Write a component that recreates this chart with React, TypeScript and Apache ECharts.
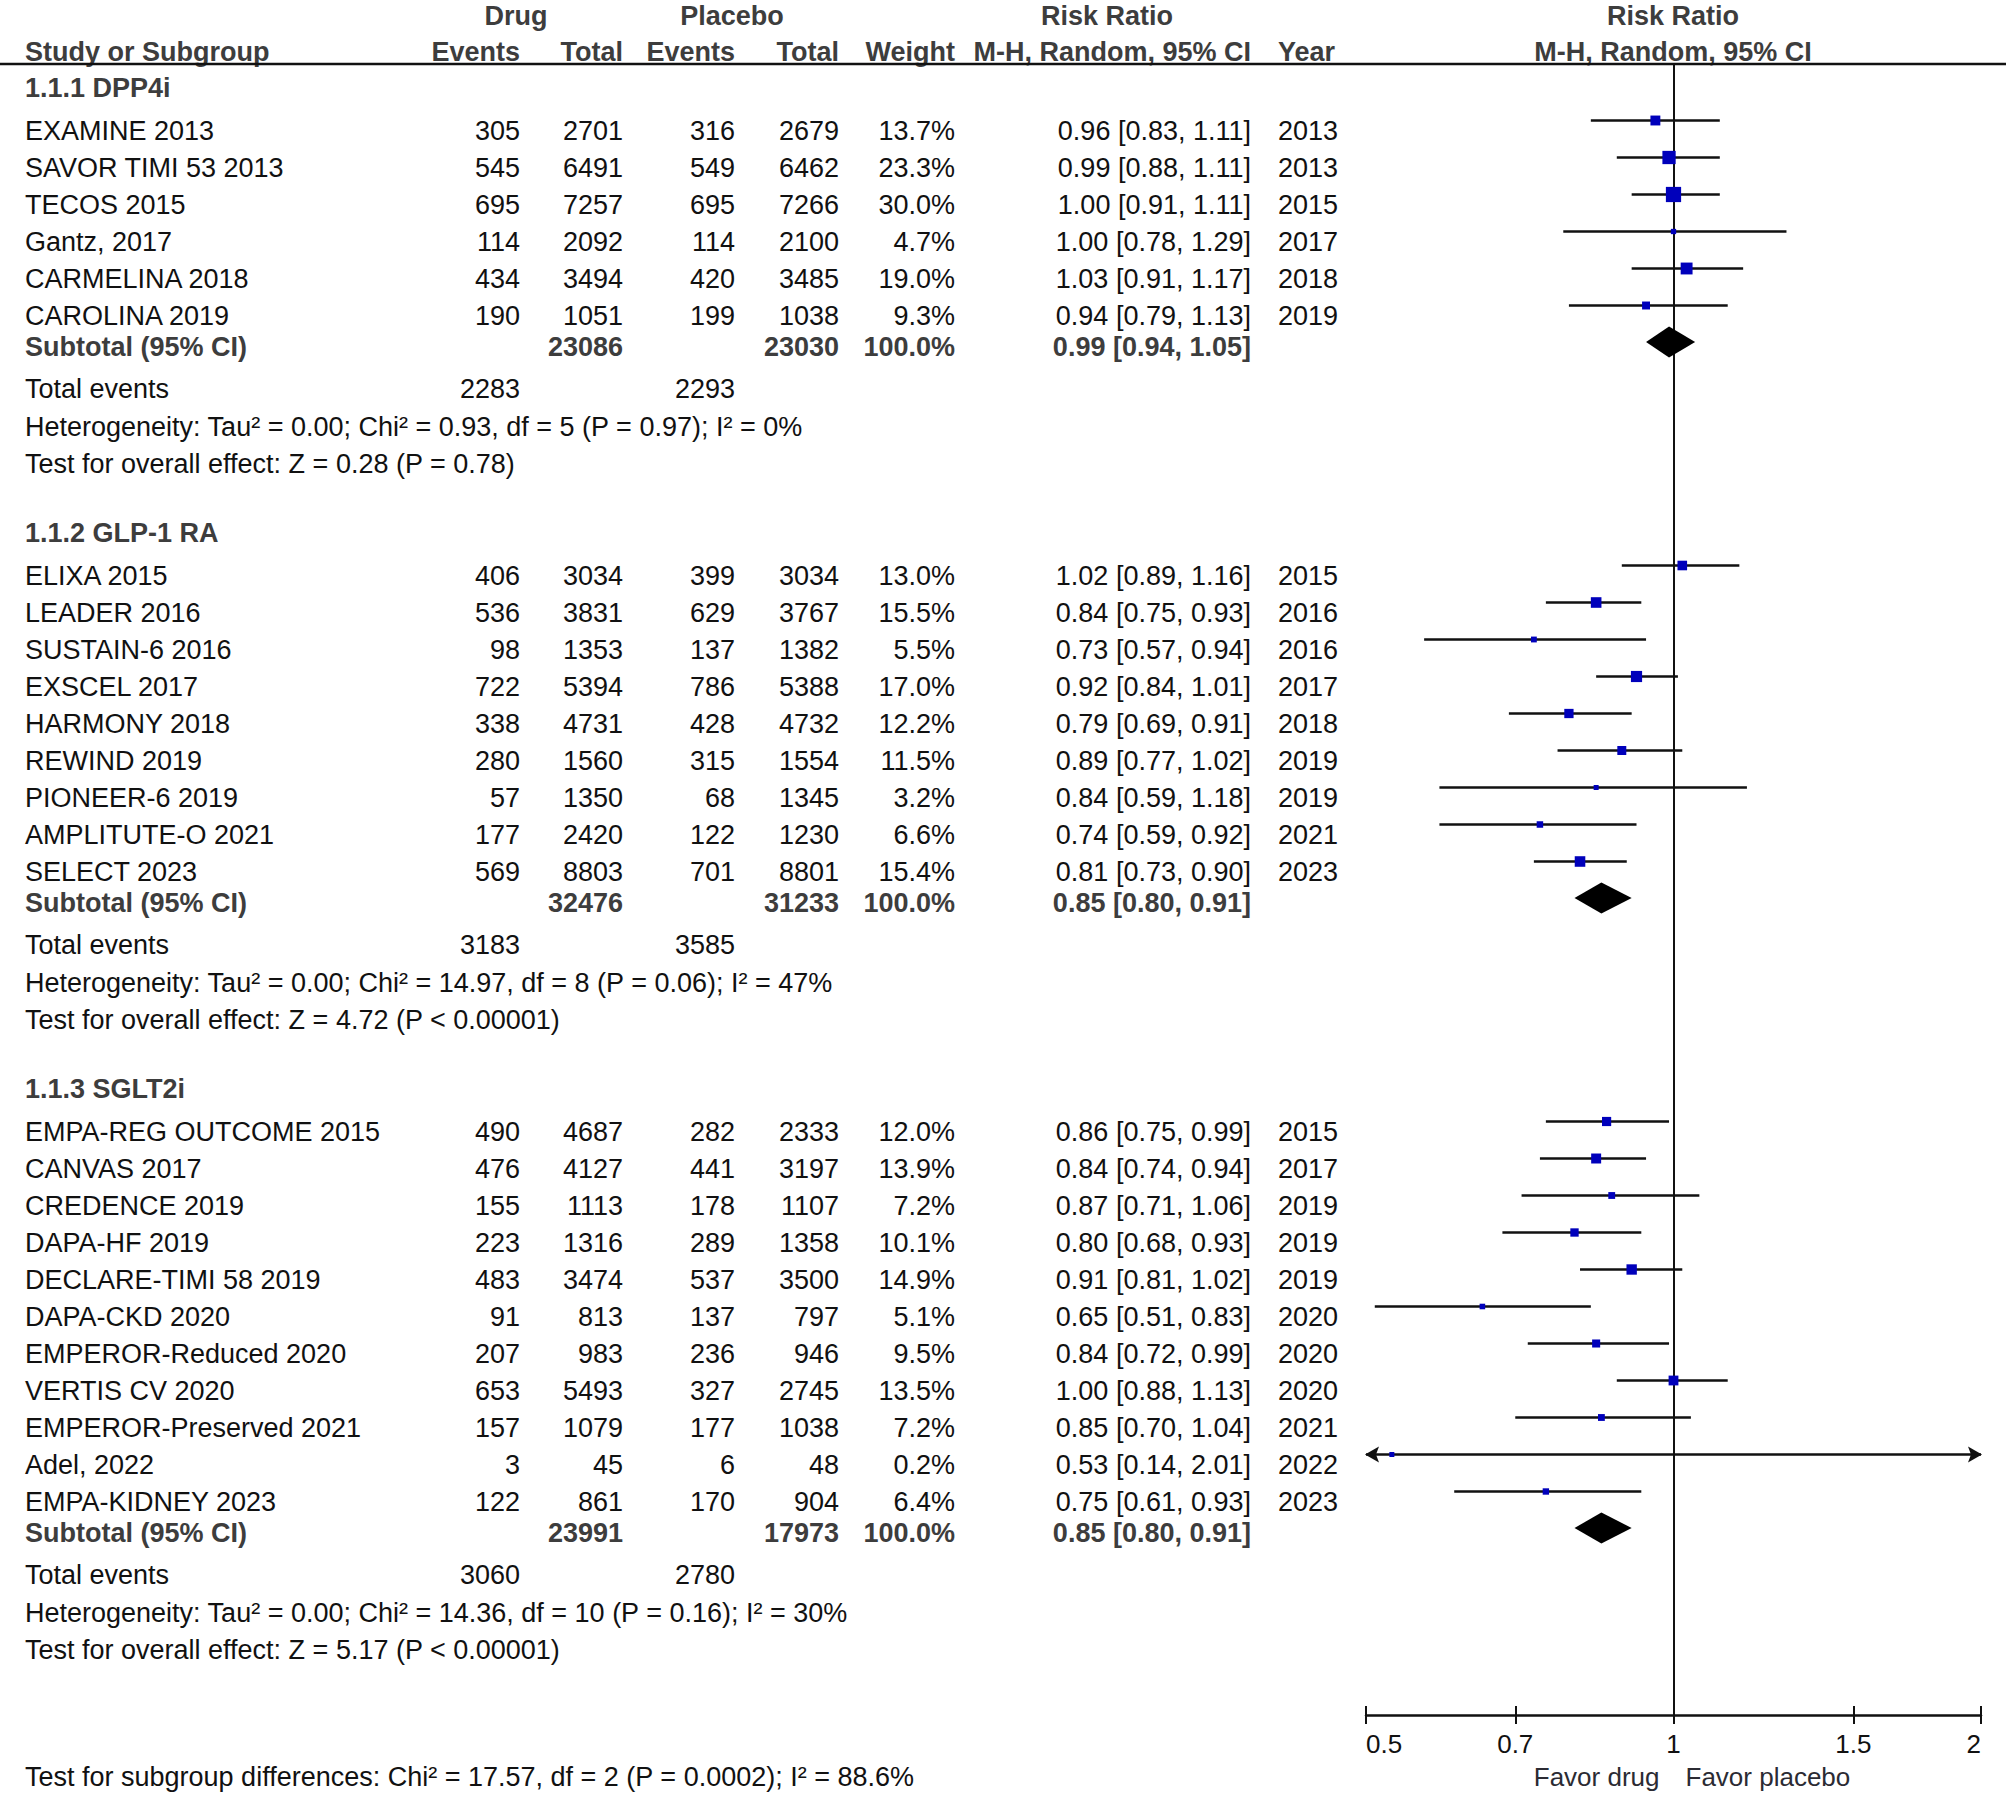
import React, { useEffect, useRef } from "react";
import * as echarts from "echarts";

// ---------------- Data ----------------
const DPP4_TITLE = "1.1.1 DPP4i";
const DPP4_STUDIES = ["EXAMINE 2013", "SAVOR TIMI 53 2013", "TECOS 2015", "Gantz, 2017", "CARMELINA 2018", "CAROLINA 2019"];
const DPP4_DRUG_EVENTS = [305, 545, 695, 114, 434, 190];
const DPP4_DRUG_TOTAL = [2701, 6491, 7257, 2092, 3494, 1051];
const DPP4_PLACEBO_EVENTS = [316, 549, 695, 114, 420, 199];
const DPP4_PLACEBO_TOTAL = [2679, 6462, 7266, 2100, 3485, 1038];
const DPP4_WEIGHT = [13.7, 23.3, 30.0, 4.7, 19.0, 9.3];
const DPP4_RR = [0.96, 0.99, 1.0, 1.0, 1.03, 0.94];
const DPP4_LOW = [0.83, 0.88, 0.91, 0.78, 0.91, 0.79];
const DPP4_HIGH = [1.11, 1.11, 1.11, 1.29, 1.17, 1.13];
const DPP4_YEAR = [2013, 2013, 2015, 2017, 2018, 2019];
const DPP4_POOLED = [0.99, 0.94, 1.05];
const DPP4_NOTES = [
  "Heterogeneity: Tau\u00b2 = 0.00; Chi\u00b2 = 0.93, df = 5 (P = 0.97); I\u00b2 = 0%",
  "Test for overall effect: Z = 0.28 (P = 0.78)",
];

const GLP1_TITLE = "1.1.2 GLP-1 RA";
const GLP1_STUDIES = ["ELIXA 2015", "LEADER 2016", "SUSTAIN-6 2016", "EXSCEL 2017", "HARMONY 2018", "REWIND 2019", "PIONEER-6 2019", "AMPLITUTE-O 2021", "SELECT 2023"];
const GLP1_DRUG_EVENTS = [406, 536, 98, 722, 338, 280, 57, 177, 569];
const GLP1_DRUG_TOTAL = [3034, 3831, 1353, 5394, 4731, 1560, 1350, 2420, 8803];
const GLP1_PLACEBO_EVENTS = [399, 629, 137, 786, 428, 315, 68, 122, 701];
const GLP1_PLACEBO_TOTAL = [3034, 3767, 1382, 5388, 4732, 1554, 1345, 1230, 8801];
const GLP1_WEIGHT = [13.0, 15.5, 5.5, 17.0, 12.2, 11.5, 3.2, 6.6, 15.4];
const GLP1_RR = [1.02, 0.84, 0.73, 0.92, 0.79, 0.89, 0.84, 0.74, 0.81];
const GLP1_LOW = [0.89, 0.75, 0.57, 0.84, 0.69, 0.77, 0.59, 0.59, 0.73];
const GLP1_HIGH = [1.16, 0.93, 0.94, 1.01, 0.91, 1.02, 1.18, 0.92, 0.9];
const GLP1_YEAR = [2015, 2016, 2016, 2017, 2018, 2019, 2019, 2021, 2023];
const GLP1_POOLED = [0.85, 0.8, 0.91];
const GLP1_NOTES = [
  "Heterogeneity: Tau\u00b2 = 0.00; Chi\u00b2 = 14.97, df = 8 (P = 0.06); I\u00b2 = 47%",
  "Test for overall effect: Z = 4.72 (P < 0.00001)",
];

const SGLT2_TITLE = "1.1.3 SGLT2i";
const SGLT2_STUDIES = ["EMPA-REG OUTCOME 2015", "CANVAS 2017", "CREDENCE 2019", "DAPA-HF 2019", "DECLARE-TIMI 58 2019", "DAPA-CKD 2020", "EMPEROR-Reduced 2020", "VERTIS CV 2020", "EMPEROR-Preserved 2021", "Adel, 2022", "EMPA-KIDNEY 2023"];
const SGLT2_DRUG_EVENTS = [490, 476, 155, 223, 483, 91, 207, 653, 157, 3, 122];
const SGLT2_DRUG_TOTAL = [4687, 4127, 1113, 1316, 3474, 813, 983, 5493, 1079, 45, 861];
const SGLT2_PLACEBO_EVENTS = [282, 441, 178, 289, 537, 137, 236, 327, 177, 6, 170];
const SGLT2_PLACEBO_TOTAL = [2333, 3197, 1107, 1358, 3500, 797, 946, 2745, 1038, 48, 904];
const SGLT2_WEIGHT = [12.0, 13.9, 7.2, 10.1, 14.9, 5.1, 9.5, 13.5, 7.2, 0.2, 6.4];
const SGLT2_RR = [0.86, 0.84, 0.87, 0.8, 0.91, 0.65, 0.84, 1.0, 0.85, 0.53, 0.75];
const SGLT2_LOW = [0.75, 0.74, 0.71, 0.68, 0.81, 0.51, 0.72, 0.88, 0.7, 0.14, 0.61];
const SGLT2_HIGH = [0.99, 0.94, 1.06, 0.93, 1.02, 0.83, 0.99, 1.13, 1.04, 2.01, 0.93];
const SGLT2_YEAR = [2015, 2017, 2019, 2019, 2019, 2020, 2020, 2020, 2021, 2022, 2023];
const SGLT2_POOLED = [0.85, 0.8, 0.91];
const SGLT2_NOTES = [
  "Heterogeneity: Tau\u00b2 = 0.00; Chi\u00b2 = 14.36, df = 10 (P = 0.16); I\u00b2 = 30%",
  "Test for overall effect: Z = 5.17 (P < 0.00001)",
];

const SUBTOTAL_LABEL = "Subtotal (95% CI)";
const SUBTOTAL_WEIGHT = "100.0%";
const TOTAL_EVENTS_LABEL = "Total events";
const SUBGROUP_TEST = "Test for subgroup differences: Chi\u00b2 = 17.57, df = 2 (P = 0.0002); I\u00b2 = 88.6%";

const AXIS_TICKS = [0.5, 0.7, 1, 1.5, 2];
const AXIS_TICK_LABELS = ["0.5", "0.7", "1", "1.5", "2"];
const AXIS_MIN = 0.5;
const AXIS_MAX = 2;
const FAVOR_LEFT = "Favor drug";
const FAVOR_RIGHT = "Favor placebo";

const HEADER_TOP = [
  { text: "Drug", x: 516, align: "center" },
  { text: "Placebo", x: 732, align: "center" },
  { text: "Risk Ratio", x: 1107, align: "center" },
  { text: "Risk Ratio", x: 1673, align: "center" },
];
const HEADER_BOTTOM = [
  { text: "Study or Subgroup", x: 25, align: "left" },
  { text: "Events", x: 520, align: "right" },
  { text: "Total", x: 623, align: "right" },
  { text: "Events", x: 735, align: "right" },
  { text: "Total", x: 839, align: "right" },
  { text: "Weight", x: 955, align: "right" },
  { text: "M-H, Random, 95% CI", x: 1251, align: "right" },
  { text: "Year", x: 1278, align: "left" },
  { text: "M-H, Random, 95% CI", x: 1673, align: "center" },
];

// ---------------- Layout & style ----------------
const W = 2008;
const H = 1796;
const FONT = "'Liberation Sans', Arial, sans-serif";
const FS = 27;
const AXIS_FS = 26;
const INK = "#111111";
const BOLD_INK = "#3d3d3d";
const BLUE = "#0000bb";
const GRID_TOP = 64;
const GRID_BOTTOM = 1715;
const GRID_LEFT = 1366;
const GRID_RIGHT = 1981;
const HEADER_Y1 = 15.5;
const HEADER_Y2 = 51.5;
const FOOT_Y = 1777;

const GAP_FIRST = 24;
const GAP_HEAD_STUDY = 42.5;
const GAP_STUDY = 37;
const GAP_STUDY_SUB = 31.5;
const GAP_SUB_TOTAL = 42;
const GAP_NOTE = 37.5;
const GAP_TEST_HEAD = 69;
const MARK_LIFT = 10;
const DIAMOND_LIFT = 5;
const DIAMOND_HALF = 15.5;

const COLS: Record<string, { x: number; align: string }> = {
  name: { x: 25, align: "left" },
  de: { x: 520, align: "right" },
  dt: { x: 623, align: "right" },
  pe: { x: 735, align: "right" },
  pt: { x: 839, align: "right" },
  w: { x: 955, align: "right" },
  ci: { x: 1251, align: "right" },
  year: { x: 1278, align: "left" },
};

const GROUPS = [
  { title: DPP4_TITLE, names: DPP4_STUDIES, de: DPP4_DRUG_EVENTS, dt: DPP4_DRUG_TOTAL, pe: DPP4_PLACEBO_EVENTS, pt: DPP4_PLACEBO_TOTAL, w: DPP4_WEIGHT, rr: DPP4_RR, lo: DPP4_LOW, hi: DPP4_HIGH, year: DPP4_YEAR, pooled: DPP4_POOLED, notes: DPP4_NOTES },
  { title: GLP1_TITLE, names: GLP1_STUDIES, de: GLP1_DRUG_EVENTS, dt: GLP1_DRUG_TOTAL, pe: GLP1_PLACEBO_EVENTS, pt: GLP1_PLACEBO_TOTAL, w: GLP1_WEIGHT, rr: GLP1_RR, lo: GLP1_LOW, hi: GLP1_HIGH, year: GLP1_YEAR, pooled: GLP1_POOLED, notes: GLP1_NOTES },
  { title: SGLT2_TITLE, names: SGLT2_STUDIES, de: SGLT2_DRUG_EVENTS, dt: SGLT2_DRUG_TOTAL, pe: SGLT2_PLACEBO_EVENTS, pt: SGLT2_PLACEBO_TOTAL, w: SGLT2_WEIGHT, rr: SGLT2_RR, lo: SGLT2_LOW, hi: SGLT2_HIGH, year: SGLT2_YEAR, pooled: SGLT2_POOLED, notes: SGLT2_NOTES },
];

type Row = { y: number; bold: boolean; cells: Record<string, string> };

const sum = (a: number[]) => a.reduce((s, v) => s + v, 0);
const ci = (r: number, l: number, h: number) => `${r.toFixed(2)} [${l.toFixed(2)}, ${h.toFixed(2)}]`;

function buildRows() {
  const rows: Row[] = [];
  const marks: number[][] = [];
  const diamonds: number[][] = [];
  let y = GAP_FIRST;
  GROUPS.forEach((g, gi) => {
    if (gi > 0) y += GAP_TEST_HEAD;
    rows.push({ y, bold: true, cells: { name: g.title } });
    y += GAP_HEAD_STUDY;
    g.names.forEach((n, i) => {
      if (i > 0) y += GAP_STUDY;
      rows.push({
        y,
        bold: false,
        cells: {
          name: n,
          de: String(g.de[i]),
          dt: String(g.dt[i]),
          pe: String(g.pe[i]),
          pt: String(g.pt[i]),
          w: g.w[i].toFixed(1) + "%",
          ci: ci(g.rr[i], g.lo[i], g.hi[i]),
          year: String(g.year[i]),
        },
      });
      marks.push([Math.log(g.rr[i]), y, Math.log(g.lo[i]), Math.log(g.hi[i]), g.w[i]]);
    });
    y += GAP_STUDY_SUB;
    rows.push({
      y,
      bold: true,
      cells: {
        name: SUBTOTAL_LABEL,
        dt: String(sum(g.dt)),
        pt: String(sum(g.pt)),
        w: SUBTOTAL_WEIGHT,
        ci: ci(g.pooled[0], g.pooled[1], g.pooled[2]),
      },
    });
    diamonds.push([Math.log(g.pooled[0]), y, Math.log(g.pooled[1]), Math.log(g.pooled[2])]);
    y += GAP_SUB_TOTAL;
    rows.push({ y, bold: false, cells: { name: TOTAL_EVENTS_LABEL, de: String(sum(g.de)), pe: String(sum(g.pe)) } });
    y += GAP_NOTE;
    rows.push({ y, bold: false, cells: { name: g.notes[0] } });
    y += GAP_NOTE;
    rows.push({ y, bold: false, cells: { name: g.notes[1] } });
  });
  return { rows, marks, diamonds };
}

function txt(text: string, x: number, y: number, align: string, bold: boolean, fill?: string, size?: number) {
  return {
    type: "text",
    x,
    y,
    silent: true,
    style: {
      text,
      fill: fill || (bold ? BOLD_INK : INK),
      fontSize: size || FS,
      fontFamily: FONT,
      fontWeight: bold ? "bold" : "normal",
      align,
      verticalAlign: "middle",
      textAlign: align,
      textVerticalAlign: "middle",
    },
  };
}

function buildOption() {
  const { rows, marks, diamonds } = buildRows();
  const lnMin = Math.log(AXIS_MIN);
  const lnMax = Math.log(AXIS_MAX);
  const tickLn = AXIS_TICKS.map((t) => Math.log(t));
  const labelFor = (v: number) => {
    let best = 0;
    tickLn.forEach((t, i) => {
      if (Math.abs(t - v) < Math.abs(tickLn[best] - v)) best = i;
    });
    return AXIS_TICK_LABELS[best];
  };

  const graphics: any[] = [];
  HEADER_TOP.forEach((h) => graphics.push(txt(h.text, h.x, HEADER_Y1, h.align, true)));
  HEADER_BOTTOM.forEach((h) => graphics.push(txt(h.text, h.x, HEADER_Y2, h.align, true)));
  graphics.push({
    type: "line",
    silent: true,
    shape: { x1: 0, y1: GRID_TOP, x2: W - 2, y2: GRID_TOP },
    style: { stroke: INK, lineWidth: 2.5 },
  });
  graphics.push(txt(SUBGROUP_TEST, 25, FOOT_Y, "left", false));
  const center = (GRID_LEFT + GRID_RIGHT) / 2;
  graphics.push(txt(FAVOR_LEFT, center - 14, FOOT_Y, "right", false, "#2b2b33", AXIS_FS));
  graphics.push(txt(FAVOR_RIGHT, center + 12, FOOT_Y, "left", false, "#2b2b33", AXIS_FS));

  const baseX = {
    type: "value",
    min: lnMin,
    max: lnMax,
    position: "bottom",
    splitLine: { show: false },
  };

  return {
    animation: false,
    backgroundColor: "#ffffff",
    grid: {
      left: GRID_LEFT,
      right: W - GRID_RIGHT,
      top: GRID_TOP,
      bottom: H - GRID_BOTTOM,
      containLabel: false,
      outerBoundsMode: "none",
    },
    xAxis: [
      {
        ...baseX,
        axisLine: { show: true, onZero: false, lineStyle: { color: INK, width: 2.5 } },
        axisTick: { show: true, inside: false, length: 9, customValues: tickLn, lineStyle: { color: INK, width: 2 } },
        axisLabel: {
          show: true,
          customValues: tickLn,
          formatter: (v: number) => labelFor(v),
          color: INK,
          fontSize: AXIS_FS,
          fontFamily: FONT,
          margin: 16,
          alignMinLabel: "left",
          alignMaxLabel: "right",
        },
      },
      {
        ...baseX,
        axisLine: { show: false, onZero: false },
        axisTick: { show: true, inside: true, length: 9, customValues: tickLn, lineStyle: { color: INK, width: 2 } },
        axisLabel: { show: false },
      },
    ],
    yAxis: {
      type: "value",
      inverse: true,
      min: 0,
      max: GRID_BOTTOM - GRID_TOP,
      axisLine: { show: true, onZero: true, onZeroAxisIndex: 0, lineStyle: { color: INK, width: 2 } },
      axisTick: { show: false },
      axisLabel: { show: false },
      splitLine: { show: false },
    },
    graphic: graphics,
    series: [
      {
        type: "custom",
        name: "table",
        coordinateSystem: "cartesian2d",
        clip: false,
        silent: true,
        data: rows.map((r) => [0, r.y]),
        renderItem: (params: any, api: any) => {
          const row = rows[params.dataIndex];
          const yPix = api.coord([0, row.y])[1];
          return {
            type: "group",
            children: Object.keys(row.cells).map((k) =>
              txt(row.cells[k], COLS[k].x, yPix, COLS[k].align, row.bold)
            ),
          };
        },
      },
      {
        type: "custom",
        name: "studies",
        coordinateSystem: "cartesian2d",
        clip: false,
        silent: true,
        data: marks,
        renderItem: (params: any, api: any) => {
          const yv = api.value(1);
          const c = api.coord([api.value(0), yv]);
          const y = c[1] - MARK_LIFT;
          const xMin = api.coord([lnMin, yv])[0];
          const xMax = api.coord([lnMax, yv])[0];
          let x1 = api.coord([api.value(2), yv])[0];
          let x2 = api.coord([api.value(3), yv])[0];
          const leftArrow = x1 < xMin;
          const rightArrow = x2 > xMax;
          x1 = Math.max(x1, xMin);
          x2 = Math.min(x2, xMax);
          const s = Math.max(5, 3.0 * Math.sqrt(api.value(4)) - 1.2);
          const children: any[] = [
            { type: "line", shape: { x1, y1: y, x2, y2: y }, style: { stroke: INK, lineWidth: 2.5 } },
          ];
          if (leftArrow)
            children.push({ type: "polygon", shape: { points: [[x1 - 1, y], [x1 + 13, y - 8], [x1 + 10, y], [x1 + 13, y + 8]] }, style: { fill: INK } });
          if (rightArrow)
            children.push({ type: "polygon", shape: { points: [[x2 + 1, y], [x2 - 13, y - 8], [x2 - 10, y], [x2 - 13, y + 8]] }, style: { fill: INK } });
          children.push({ type: "rect", shape: { x: c[0] - s / 2, y: y - s / 2, width: s, height: s }, style: { fill: BLUE } });
          return { type: "group", children };
        },
      },
      {
        type: "custom",
        name: "pooled",
        coordinateSystem: "cartesian2d",
        clip: false,
        silent: true,
        data: diamonds,
        renderItem: (params: any, api: any) => {
          const yv = api.value(1);
          const c = api.coord([api.value(0), yv]);
          const y = c[1] - DIAMOND_LIFT;
          const xl = api.coord([api.value(2), yv])[0];
          const xh = api.coord([api.value(3), yv])[0];
          return {
            type: "polygon",
            shape: { points: [[xl, y], [c[0], y - DIAMOND_HALF], [xh, y], [c[0], y + DIAMOND_HALF]] },
            style: { fill: "#000000" },
          };
        },
      },
    ],
  };
}

export default function App() {
  const ref = useRef<HTMLDivElement>(null);
  useEffect(() => {
    if (!ref.current) return;
    const chart = echarts.init(ref.current, null, { renderer: "svg", width: W, height: H });
    chart.setOption(buildOption() as any);
    return () => chart.dispose();
  }, []);
  return (
    <div
      ref={ref}
      style={{ position: "absolute", left: 0, top: 0, width: W, height: H, background: "#ffffff" }}
    />
  );
}
